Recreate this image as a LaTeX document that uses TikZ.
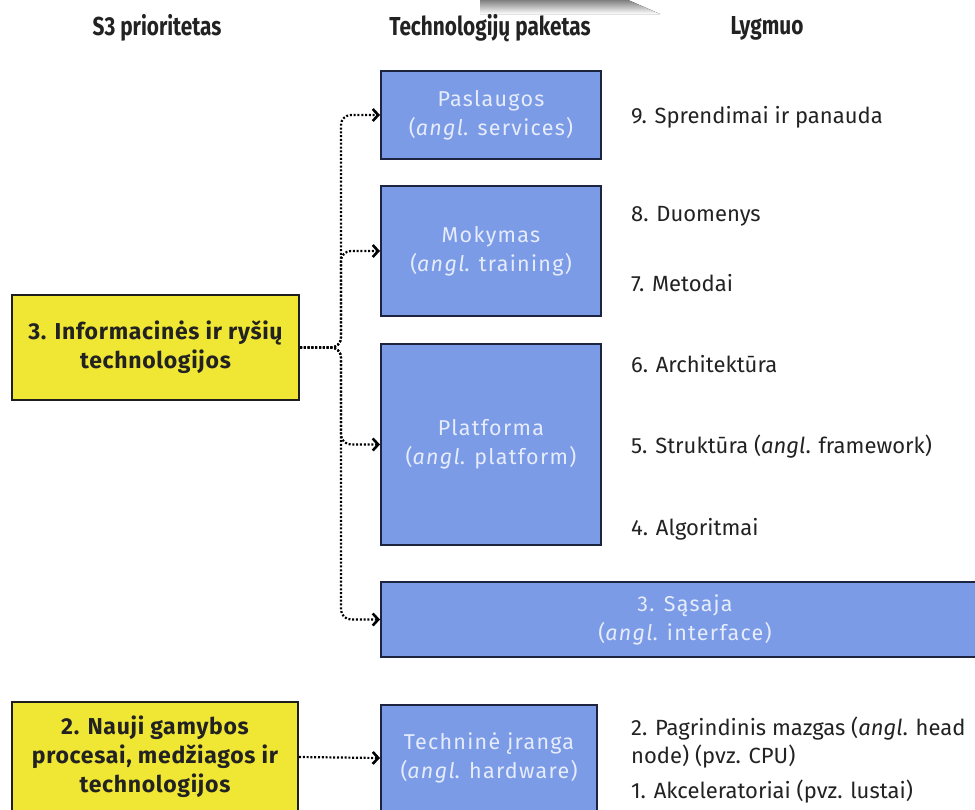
\documentclass[tikz,border=0pt]{standalone}
\usepackage{fontspec}
\setmainfont{Fira Sans}
\usetikzlibrary{arrows.meta}
\definecolor{pkgfill}{RGB}{123,155,230}
\definecolor{pkgline}{RGB}{28,36,64}
\definecolor{pkgtext}{RGB}{230,236,252}
\definecolor{prifill}{RGB}{240,230,52}
\definecolor{prilin}{RGB}{30,30,30}
\definecolor{txt}{RGB}{34,34,34}
\definecolor{shade}{RGB}{243,243,243}
\tikzset{
  pkg/.style={draw=pkgline, line width=2pt, fill=pkgfill, text=pkgtext,
    align=center, inner sep=0pt,
    font=\fontsize{21.5}{29}\selectfont\addfontfeatures{LetterSpace=6}},
  pri/.style={draw=prilin, line width=2pt, fill=prifill, text=txt,
    align=center, inner sep=0pt,
    font=\bfseries\fontsize{23}{29}\selectfont\addfontfeatures{LetterSpace=3}},
  lvl/.style={anchor=west, text=txt, inner sep=0pt, align=left,
    font=\fontsize{22}{28}\selectfont},
  hdr/.style={text=txt, inner sep=0pt, font=\bfseries\fontsize{26}{30}\selectfont},
  link/.style={draw=black, line width=2.2pt, dash pattern=on 2pt off 1.8pt,
    rounded corners=10pt, -{Straight Barb[length=5.5pt,width=12pt,line width=2.6pt]}}
}
\newcommand{\en}{\textit{angl}.}
\begin{document}
\begin{tikzpicture}[x=1pt,y=-1pt]
\useasboundingbox (0,0) rectangle (975,809);
\fill[white] (0,0) rectangle (975,809);
\fill[shade] (480,0) -- (628,0) -- (660,14) -- (480,14) -- cycle;

% column headings
\node[hdr] (h1) at (157,28) {\scalebox{0.8}[1]{S3 prioritetas}};
\node[hdr] (h2) at (490,28) {\scalebox{0.8}[1]{Technologijų paketas}};
\node[hdr] (h3) at (767,28) {\scalebox{0.8}[1]{Lygmuo}};

% S3 priorities
\node[pri, minimum width=287pt, minimum height=105pt] (ict) at (155.5,347.5)
  {3. Informacinės ir ryšių\\technologijos};
\node[pri, minimum width=286pt, minimum height=110pt] (man) at (155,757)
  {2. Nauji gamybos\\procesai, medžiagos ir\\technologijos};

% technology packages
\node[pkg, minimum width=220pt, minimum height=88pt] (srv) at (491,115)
  {Paslaugos\\(\en{} services)};
\node[pkg, minimum width=220pt, minimum height=130pt] (trn) at (491,251)
  {Mokymas\\(\en{} training)};
\node[pkg, minimum width=220pt, minimum height=201pt] (plt) at (491,444.5)
  {Platforma\\(\en{} platform)};
\node[pkg, minimum width=608pt, minimum height=75pt] (ifc) at (685,619.5)
  {3. Sąsaja\\(\en{} interface)};
\node[pkg, minimum width=216pt, minimum height=107pt] (hw) at (489,758)
  {Techninė įranga\\(\en{} hardware)};

% levels
\node[lvl] (l9) at (631,117) {9. Sprendimai ir panauda};
\node[lvl] (l8) at (631,216) {8. Duomenys};
\node[lvl] (l7) at (631,283) {7. Metodai};
\node[lvl] (l6) at (631,364) {6. Architektūra};
\node[lvl] (l5) at (631,447) {5. Struktūra (\en{} framework)};
\node[lvl] (l4) at (631,529) {4. Algoritmai};
\node[lvl] (l2) at (631,743) {2. Pagrindinis mazgas (\en{} head\\node) (pvz. CPU)};
\node[lvl] (l1) at (631,792) {1. Akceleratoriai (pvz. lustai)};

% connectors
\coordinate (fork) at (341,347.5);
\draw[link] (ict.east) -- (fork) -- (fork |- srv.west) -- (srv.west);
\draw[link] (ict.east) -- (fork) -- (fork |- trn.west) -- (trn.west);
\draw[link] (ict.east) -- (fork) -- (fork |- plt.west) -- (plt.west);
\draw[link] (ict.east) -- (fork) -- (fork |- ifc.west) -- (ifc.west);
\draw[link] (man.east) -- (hw.west);
\end{tikzpicture}
\end{document}
